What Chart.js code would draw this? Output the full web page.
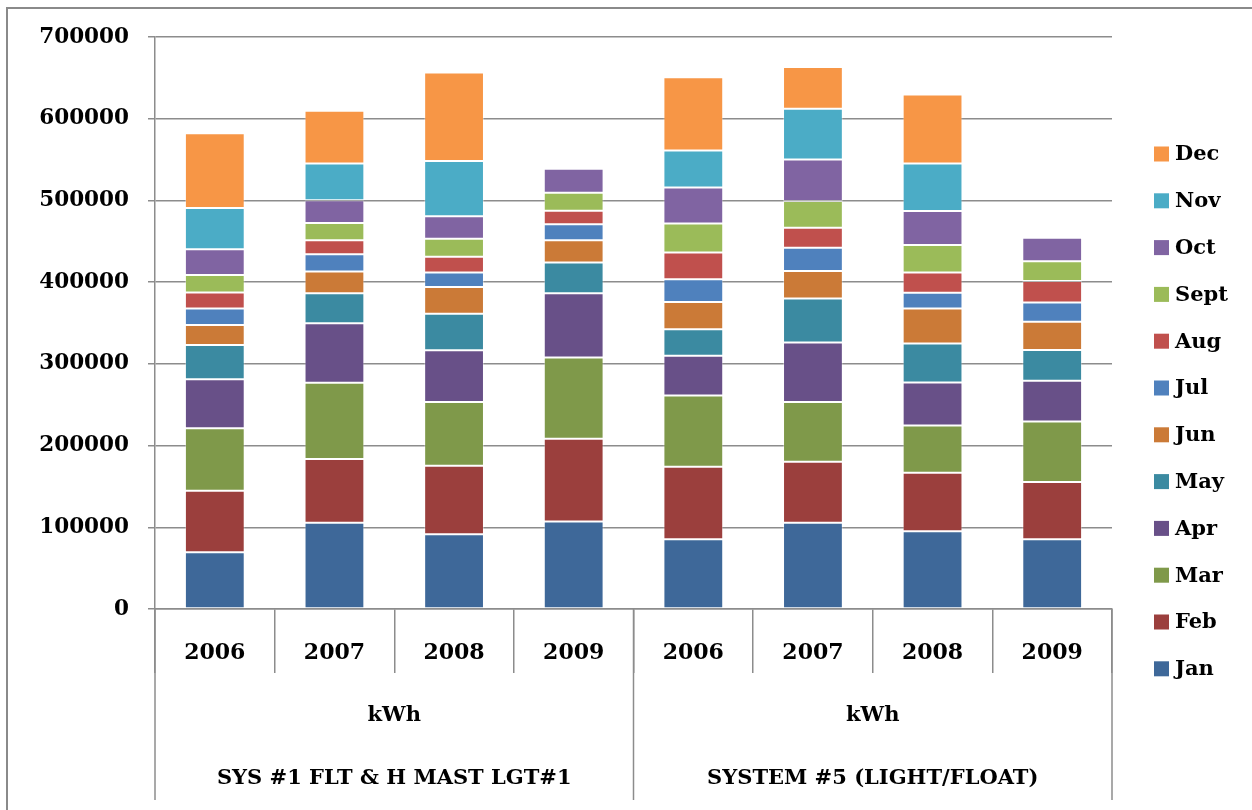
<!DOCTYPE html>
<html>
<head>
<meta charset="utf-8">
<script src="https://cdn.jsdelivr.net/npm/chart.js@4.4.1/dist/chart.umd.min.js"></script>
<style>
  html, body { margin: 0; padding: 0; background: #ffffff; }
  #wrap { width: 1252px; height: 810px; position: relative; }
</style>
</head>
<body>
<div id="wrap"><canvas id="c" width="1252" height="810"></canvas></div>
<script>
const years = ["2006", "2007", "2008", "2009", "2006", "2007", "2008", "2009"];
const unitLabel = "kWh";
const groupNames = ["SYS #1 FLT & H MAST LGT#1", "SYSTEM #5 (LIGHT/FLOAT)"];
const groupSizes = [4, 4];
const yTicks = [0, 100000, 200000, 300000, 400000, 500000, 600000, 700000];

const monthNames = ["Jan", "Feb", "Mar", "Apr", "May", "Jun", "Jul", "Aug", "Sept", "Oct", "Nov", "Dec"];
const jan  = [69400, 105600, 91400, 107200, 85300, 105400, 95000, 85300];
const feb  = [75400, 78000, 84000, 101000, 88800, 74800, 71600, 70000];
const mar  = [76400, 93400, 77800, 99600, 87300, 73000, 58100, 74300];
const apr  = [59900, 72700, 63300, 78700, 48600, 73000, 52500, 49800];
const may  = [42000, 36700, 44700, 37600, 32400, 53700, 47700, 37600];
const jun  = [24500, 26500, 32800, 27100, 33200, 33700, 42800, 34500];
const jul  = [20000, 21200, 17900, 19700, 28000, 28400, 19200, 23700];
const aug  = [19600, 17200, 19200, 16600, 32800, 24500, 25000, 26100];
const sept = [21600, 21200, 21900, 21800, 35300, 32800, 33600, 24200];
const oct  = [31500, 27700, 27500, 29400, 44200, 50800, 41500, 28700];
const nov  = [50500, 44900, 67700, null, 45100, 62000, 58200, null];
const dec  = [91500, 64500, 108500, null, 89600, 51200, 84400, null];

const monthColors = ["#3E6899", "#9B3F3D", "#7F994A", "#685088", "#3B8AA1", "#CB7A37",
                     "#4F81BD", "#C0504D", "#9BBB59", "#8064A2", "#4BACC6", "#F79646"];
const series = [jan, feb, mar, apr, may, jun, jul, aug, sept, oct, nov, dec];

const FONT = "'DejaVu Serif', 'Liberation Serif', serif";
const GRID = "#8c8c8c";

const datasets = series.map((vals, i) => ({
  label: monthNames[i],
  data: vals,
  backgroundColor: monthColors[i],
  borderColor: "rgba(255,255,255,0.35)",
  borderWidth: 1,
  borderSkipped: false,
  barPercentage: 0.5,
  categoryPercentage: 1.0
}));

// legend layout (drawn from the chart's datasets, newest month on top)
const legendBoxX = 1154, legendTextX = 1175, legendFirstY = 154, legendStep = 46.8, legendBox = 15;

const decoPlugin = {
  id: "deco",
  beforeDraw(chart) {
    const ctx = chart.ctx;
    ctx.save();
    ctx.fillStyle = "#ffffff";
    ctx.fillRect(0, 0, chart.width, chart.height);
    ctx.strokeStyle = "#8a8a8a";
    ctx.lineWidth = 2;
    ctx.strokeRect(7, 8, chart.width + 20, chart.height + 20);
    ctx.restore();
  },
  afterDraw(chart) {
    const ctx = chart.ctx;
    const xs = chart.scales.x;
    const area = chart.chartArea;
    ctx.save();
    const bounds = [area.left];
    let idx = 0;
    groupSizes.forEach((n) => {
      idx += n;
      if (idx < years.length) {
        bounds.push((xs.getPixelForValue(idx - 1) + xs.getPixelForValue(idx)) / 2);
      }
    });
    bounds.push(area.right);
    ctx.strokeStyle = GRID;
    ctx.lineWidth = 1.5;
    bounds.forEach((bx) => {
      ctx.beginPath();
      ctx.moveTo(bx, area.bottom);
      ctx.lineTo(bx, 800);
      ctx.stroke();
    });
    ctx.fillStyle = "#000000";
    ctx.textAlign = "center";
    ctx.textBaseline = "middle";
    ctx.font = "bold 21px " + FONT;
    for (let g = 0; g < groupNames.length; g++) {
      const cx = (bounds[g] + bounds[g + 1]) / 2;
      ctx.fillText(unitLabel, cx, 716);
      ctx.fillText(groupNames[g], cx, 779);
    }
    // legend
    const ds = chart.data.datasets;
    ctx.textAlign = "left";
    ctx.font = "bold 21px " + FONT;
    for (let k = 0; k < ds.length; k++) {
      const d = ds[ds.length - 1 - k];
      const cy = legendFirstY + k * legendStep;
      ctx.fillStyle = d.backgroundColor;
      ctx.fillRect(legendBoxX, cy - legendBox / 2, legendBox, legendBox);
      ctx.fillStyle = "#000000";
      ctx.fillText(d.label, legendTextX, cy + 1);
    }
    ctx.restore();
  }
};

new Chart(document.getElementById("c"), {
  type: "bar",
  data: { labels: years, datasets: datasets },
  plugins: [decoPlugin],
  options: {
    responsive: false,
    animation: false,
    layout: { padding: { top: 37, right: 140, bottom: 0, left: 0 } },
    plugins: {
      tooltip: { enabled: false },
      title: { display: false },
      legend: { display: false }
    },
    scales: {
      x: {
        stacked: true,
        afterFit(scale) { scale.height = 201; },
        grid: {
          display: true,
          drawOnChartArea: false,
          drawTicks: true,
          tickLength: 64,
          color: GRID,
          lineWidth: 1.5,
          offset: true
        },
        border: { display: true, color: GRID, width: 1.5 },
        ticks: {
          color: "#000000",
          font: { family: FONT, size: 22, weight: "bold" },
          padding: -33,
          maxRotation: 0,
          autoSkip: false
        }
      },
      y: {
        stacked: true,
        min: 0,
        max: 700000,
        afterFit(scale) { scale.width = 155; },
        afterBuildTicks(scale) { scale.ticks = yTicks.map(v => ({ value: v })); },
        grid: {
          color: GRID,
          lineWidth: 1.5,
          drawTicks: true,
          tickLength: 7
        },
        border: { display: true, color: GRID, width: 1.5 },
        ticks: {
          color: "#000000",
          font: { family: FONT, size: 21.5, weight: "bold" },
          padding: 19,
          callback: (v) => String(v)
        }
      }
    }
  }
});
</script>
</body>
</html>
